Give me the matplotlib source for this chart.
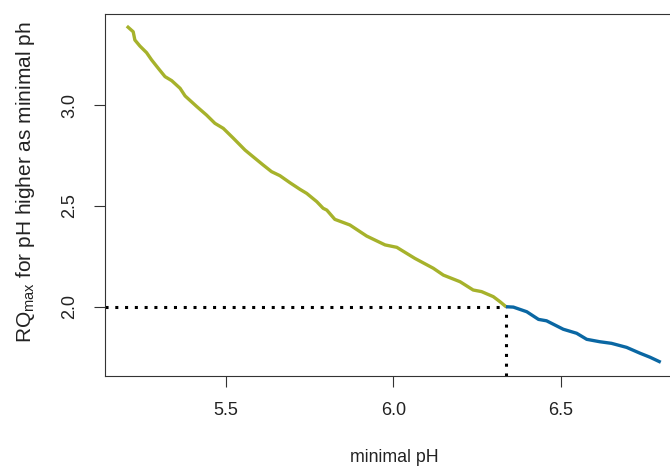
import matplotlib
matplotlib.use("Agg")
import matplotlib.pyplot as plt

plt.rcParams.update({
    "font.family": ["Liberation Sans", "DejaVu Sans"],
    "mathtext.default": "regular",
    "font.size": 12.5,
})

# RQmax curve, split at the point where it drops below the threshold
green_ph = [5.204, 5.223, 5.228, 5.243, 5.263, 5.278, 5.298, 5.318, 5.338, 5.363,
            5.378, 5.413, 5.442, 5.467, 5.492, 5.522, 5.557, 5.581, 5.611, 5.636,
            5.661, 5.691, 5.721, 5.741, 5.771, 5.790, 5.801, 5.825, 5.870, 5.920,
            5.975, 6.010, 6.064, 6.119, 6.149, 6.199, 6.238, 6.263, 6.298, 6.318,
            6.336]
green_rq = [3.394, 3.366, 3.325, 3.295, 3.262, 3.226, 3.184, 3.143, 3.123, 3.085,
            3.047, 2.994, 2.952, 2.911, 2.886, 2.837, 2.778, 2.745, 2.704, 2.671,
            2.651, 2.616, 2.583, 2.563, 2.522, 2.489, 2.480, 2.434, 2.406, 2.351,
            2.307, 2.295, 2.240, 2.191, 2.157, 2.124, 2.083, 2.075, 2.050, 2.025,
            2.000]
blue_ph = [6.336, 6.358, 6.398, 6.433, 6.457, 6.507, 6.547, 6.577, 6.616, 6.651,
           6.696, 6.736, 6.766, 6.798]
blue_rq = [2.000, 1.998, 1.975, 1.937, 1.930, 1.888, 1.868, 1.838, 1.826, 1.818,
           1.798, 1.769, 1.749, 1.724]

RQ_THRESHOLD = 2.0
x_ticks = [5.5, 6.0, 6.5]
y_ticks = [2.0, 2.5, 3.0]

GREEN = "#a6b22b"
BLUE = "#0a67a3"

fig = plt.figure(figsize=(6.7, 4.66), dpi=100)
ax = fig.add_axes([0.1567, 0.1931, 0.858, 0.7768])

ax.set_xlim(5.1388, 6.855)
ax.set_ylim(1.6557, 3.454)

ph_cross = green_ph[-1]
ax.plot([ax.get_xlim()[0], ph_cross], [RQ_THRESHOLD, RQ_THRESHOLD], color="black",
        linewidth=2.2, linestyle=(0, (1, 2.2)), zorder=1)
ax.plot([ph_cross, ph_cross], [ax.get_ylim()[0], RQ_THRESHOLD], color="black",
        linewidth=2.2, linestyle=(0, (1, 2.2)), zorder=1)

ax.plot(green_ph, green_rq, color=GREEN, linewidth=2.4, zorder=3,
        solid_capstyle="butt")
ax.plot(blue_ph, blue_rq, color=BLUE, linewidth=2.4, zorder=3,
        solid_capstyle="butt")

ax.set_xticks(x_ticks)
ax.set_xticklabels([f"{v:.1f}" for v in x_ticks])
ax.set_yticks(y_ticks)
ax.set_yticklabels([f"{v:.1f}" for v in y_ticks], rotation=90, va="center")
ax.tick_params(axis="both", length=8, width=0.8, color="#333333",
               labelsize=13, labelcolor="#222222")
ax.tick_params(axis="x", pad=11)
ax.tick_params(axis="y", pad=11)
for sp in ax.spines.values():
    sp.set_linewidth(0.8)
    sp.set_color("#333333")

ax.set_xlabel("minimal pH", fontsize=12.8, color="#222222", va="center")
ax.xaxis.set_label_coords(0.503, -0.224)
ax.set_ylabel("RQ$_{max}$ for pH higher as minimal ph", fontsize=15,
              color="#222222", va="center", ha="center")
ax.yaxis.set_label_coords(-0.139, 0.536)

fig.savefig("out.png", dpi=100)
